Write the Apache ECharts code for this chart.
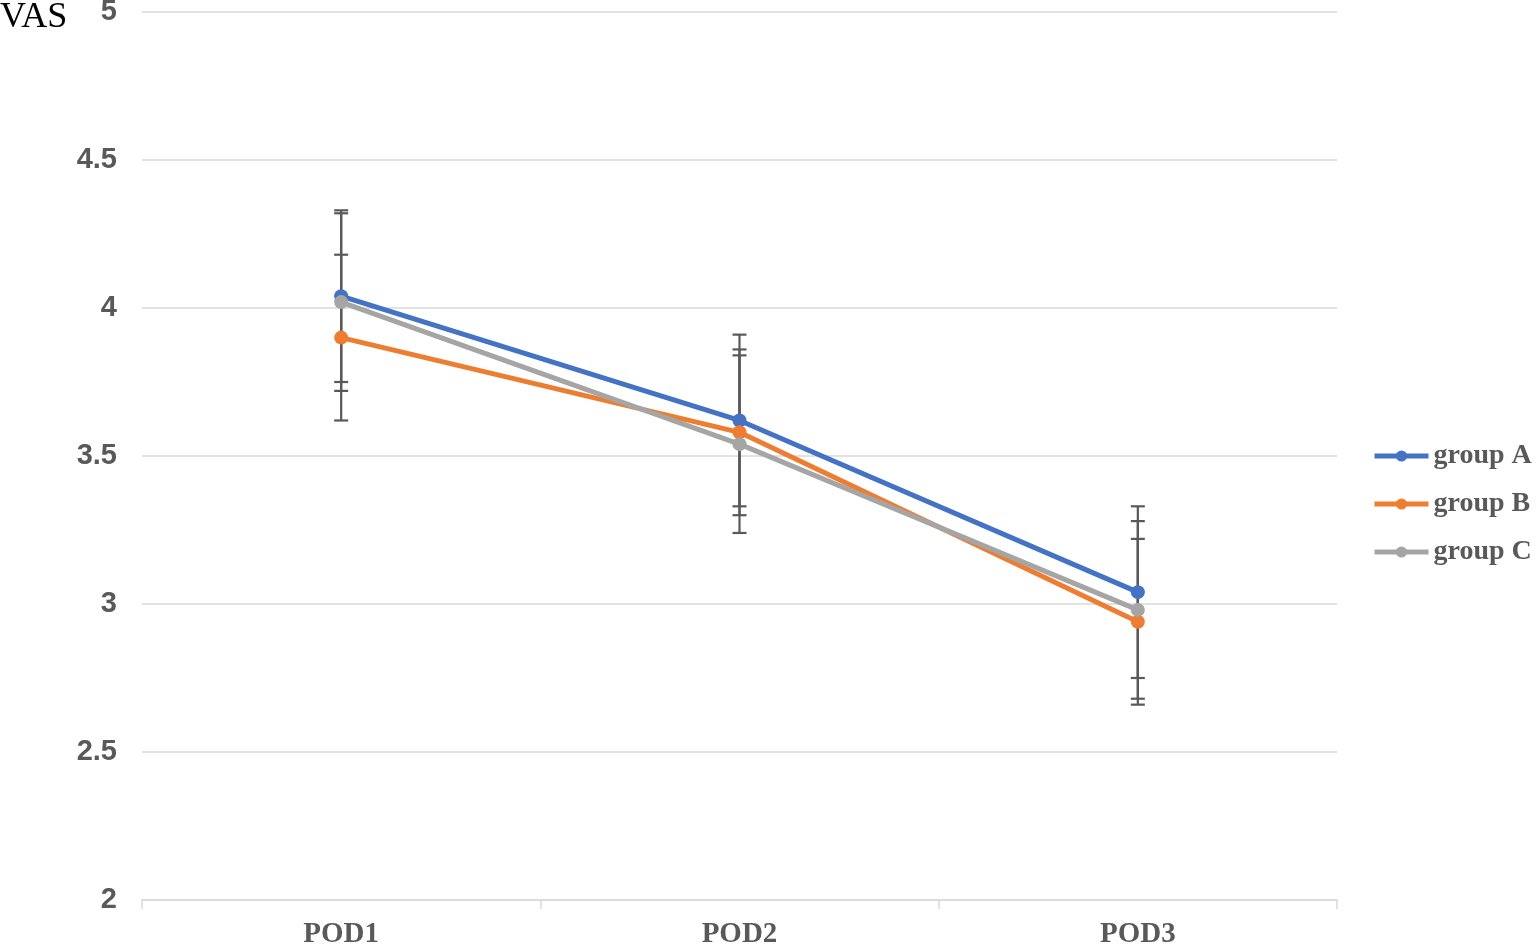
<!DOCTYPE html>
<html>
<head>
<meta charset="utf-8">
<script src="https://cdn.jsdelivr.net/npm/echarts@6/dist/echarts.min.js"></script>
<style>
html,body{margin:0;padding:0;background:#fff;}
#main{width:1538px;height:945px;position:relative;}
#vas{position:absolute;left:0;top:-4px;font-family:"Liberation Serif","Times New Roman",serif;font-size:36px;color:#000;line-height:38px;}
</style>
</head>
<body>
<div id="main"></div>
<script>
const categories = ['POD1', 'POD2', 'POD3'];
const seriesNames = ['group A', 'group B', 'group C'];
const groupA = [4.04, 3.62, 3.04];
const groupB = [3.90, 3.58, 2.94];
const groupC = [4.02, 3.54, 2.98];
const errA = [0.29, 0.29, 0.29];
const errB = [0.28, 0.28, 0.28];
const errC = [0.30, 0.30, 0.30];
const yTicks = ['2', '2.5', '3', '3.5', '4', '4.5', '5'];

const colors = ['#4472C4', '#ED7D31', '#A5A5A5'];
const means = [groupA, groupB, groupC];
const errs = [errA, errB, errC];

const chart = echarts.init(document.getElementById('main'));

function errorSeries(mean, err, name) {
  return {
    type: 'custom',
    name: name + ' err',
    z: 1,
    silent: true,
    renderItem: function (params, api) {
      const x = api.value(0);
      const lo = api.coord([x, api.value(1)]);
      const hi = api.coord([x, api.value(2)]);
      const cw = 7;
      const style = { stroke: '#595959', lineWidth: 2.2 };
      return {
        type: 'group',
        children: [
          { type: 'line', shape: { x1: lo[0], y1: lo[1], x2: hi[0], y2: hi[1] }, style: style },
          { type: 'line', shape: { x1: lo[0] - cw, y1: lo[1], x2: lo[0] + cw, y2: lo[1] }, style: style },
          { type: 'line', shape: { x1: hi[0] - cw, y1: hi[1], x2: hi[0] + cw, y2: hi[1] }, style: style }
        ]
      };
    },
    data: mean.map((m, i) => [i, m - err[i], m + err[i]])
  };
}

const series = [];
for (let k = 0; k < 3; k++) series.push(errorSeries(means[k], errs[k], seriesNames[k]));
for (let k = 0; k < 3; k++) {
  series.push({
    type: 'line',
    name: seriesNames[k],
    data: means[k],
    z: 2 + k,
    symbol: 'circle',
    symbolSize: 14,
    lineStyle: { width: 5, color: colors[k] },
    itemStyle: { color: colors[k] },
    emphasis: { disabled: true }
  });
}

chart.setOption({
  animation: false,
  grid: { left: 142, right: 201, top: 12, bottom: 45, containLabel: false, outerBoundsMode: 'none' },
  legend: {
    data: seriesNames,
    orient: 'vertical',
    left: 1372,
    top: 442,
    padding: 0,
    itemWidth: 54,
    itemHeight: 14,
    itemGap: 20,
    lineStyle: { width: 5 },
    textStyle: { fontFamily: '"Liberation Serif","Times New Roman",serif', fontWeight: 'bold', fontSize: 28, color: '#595959' }
  },
  xAxis: {
    type: 'category',
    data: categories,
    boundaryGap: true,
    axisLine: { lineStyle: { color: '#d9d9d9', width: 1.5 } },
    axisTick: { show: true, length: 9, lineStyle: { color: '#d9d9d9', width: 1.5 } },
    axisLabel: { margin: 20, fontFamily: '"Liberation Serif","Times New Roman",serif', fontWeight: 'bold', fontSize: 29, color: '#595959' }
  },
  yAxis: {
    type: 'value',
    min: 2,
    max: 5,
    interval: 0.5,
    axisLine: { show: false },
    axisTick: { show: false },
    splitLine: { lineStyle: { color: '#d9d9d9', width: 1.5 } },
    axisLabel: {
      margin: 25,
      fontFamily: '"Liberation Sans", Arial, sans-serif',
      fontWeight: 'bold',
      fontSize: 29,
      color: '#595959',
      formatter: function (v) { const s = String(+v.toFixed(1)); return yTicks.indexOf(s) >= 0 ? s : ''; }
    }
  },
  series: series
});
</script>
<div id="vas">VAS</div>
</body>
</html>
